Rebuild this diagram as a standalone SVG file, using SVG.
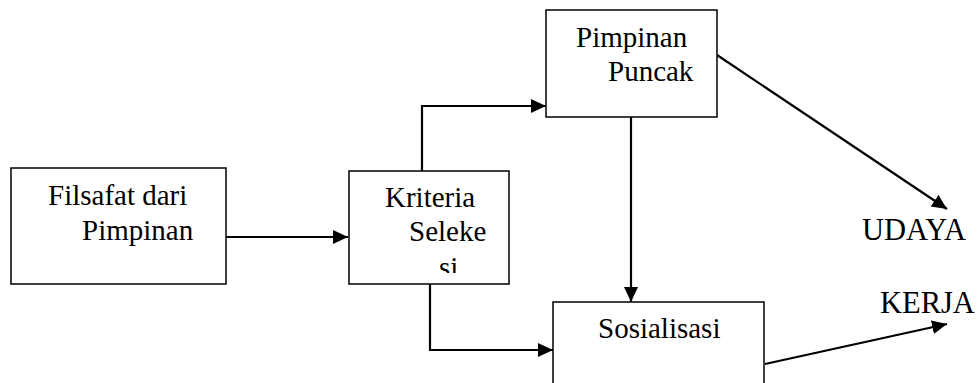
<svg xmlns="http://www.w3.org/2000/svg" width="980" height="383" viewBox="0 0 980 383">
<defs>
<style>
.box{fill:#fff;stroke:#000;stroke-width:1.5}
.c{fill:none;stroke:#000;stroke-width:2.2}
</style>
<marker id="ah" markerUnits="userSpaceOnUse" markerWidth="16" markerHeight="16" viewBox="0 0 16 16" refX="15" refY="8" orient="auto">
<path d="M0,1 L15,8 L0,15 Z" fill="#000"/>
</marker>
<clipPath id="kclip"><rect x="349" y="171" width="160" height="102"/></clipPath>
</defs>
<rect width="980" height="383" fill="#fff"/>
<g id="connectors">
<path class="c" d="M226,237 H348" marker-end="url(#ah)"/>
<path class="c" d="M422,171 V106 H546" marker-end="url(#ah)"/>
<path class="c" d="M430,284 V350 H553" marker-end="url(#ah)"/>
<path class="c" d="M631,117 V302" marker-end="url(#ah)"/>
<path class="c" d="M717,55 L947,209" marker-end="url(#ah)"/>
<path class="c" d="M765,364 L947,324" marker-end="url(#ah)"/>
</g>
<g font-family="Liberation Serif, Times New Roman, serif" font-size="29" fill="#000">
<g id="filsafat">
<rect class="box" x="11" y="168" width="215" height="116"/>
<text x="48" y="205">Filsafat dari</text>
<text x="82" y="240">Pimpinan</text>
</g>
<g id="kriteria">
<rect class="box" x="349" y="171" width="160" height="113"/>
<g clip-path="url(#kclip)">
<text x="385" y="207">Kriteria</text>
<text x="409" y="241">Seleke</text>
<text x="439" y="277">si</text>
</g>
</g>
<g id="pimpinan-puncak">
<rect class="box" x="546" y="10" width="171" height="107"/>
<text x="576" y="47">Pimpinan</text>
<text x="608" y="81">Puncak</text>
</g>
<g id="sosialisasi">
<rect class="box" x="553" y="302" width="211" height="100"/>
<text x="598" y="338">Sosialisasi</text>
</g>
<g id="budaya-kerja" font-size="30.5">
<text x="862" y="240">UDAYA</text>
<text x="880" y="313">KERJA</text>
</g>
</g>
</svg>
